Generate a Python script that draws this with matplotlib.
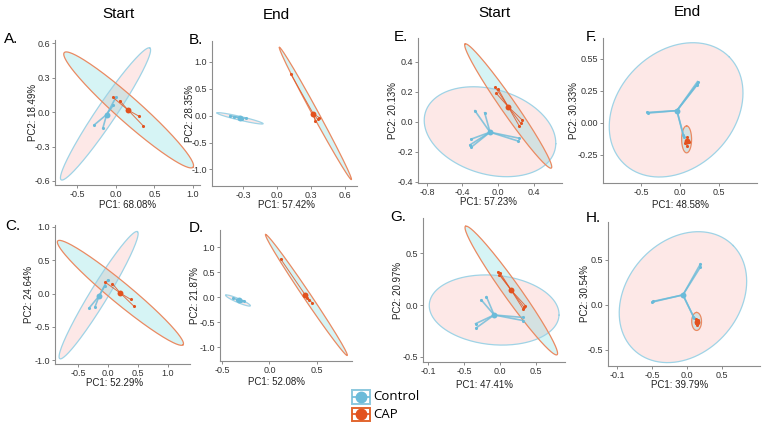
import numpy as np
import matplotlib.pyplot as plt
from matplotlib.patches import Rectangle

plt.rcParams['font.family'] = ['Liberation Sans', 'DejaVu Sans']

W, H = 763, 430

# ---- panel text ----
panels = ["A", "B", "C", "D", "E", "F", "G", "H"]
titles = {"A": "Start", "B": "End", "E": "Start", "F": "End"}
xlabels = {"A": "PC1: 68.08%", "B": "PC1: 57.42%", "C": "PC1: 52.29%", "D": "PC1: 52.08%",
           "E": "PC1: 57.23%", "F": "PC1: 48.58%", "G": "PC1: 47.41%", "H": "PC1: 39.79%"}
ylabels = {"A": "PC2: 18.49%", "B": "PC2: 28.35%", "C": "PC2: 24.64%", "D": "PC2: 21.87%",
           "E": "PC2: 20.13%", "F": "PC2: 30.33%", "G": "PC2: 20.97%", "H": "PC2: 30.54%"}

# ---- axis ranges / ticks ----
xlims = {"A": (-0.79, 1.09), "B": (-0.58, 0.71), "C": (-0.89, 1.37), "D": (-0.52, 0.87),
         "E": (-0.90, 0.72), "F": (-0.99, 0.99), "G": (-1.07, 0.90), "H": (-1.13, 1.04)}
ylims = {"A": (-0.635, 0.63), "B": (-1.31, 1.39), "C": (-1.06, 1.03), "D": (-1.27, 1.34),
         "E": (-0.41, 0.56), "F": (-0.47, 0.66), "G": (-0.55, 0.84), "H": (-0.68, 0.92)}
xticks = {"A": [-0.5, 0.0, 0.5, 1.0], "B": [-0.3, 0.0, 0.3, 0.6], "C": [-0.5, 0.0, 0.5, 1.0],
          "D": [-0.5, 0.0, 0.5], "E": [-0.8, -0.4, 0.0, 0.4], "F": [-0.5, 0.0, 0.5],
          "G": [-1.0, -0.5, 0.0, 0.5], "H": [-1.0, -0.5, 0.0, 0.5]}
xticklabels = {"A": ["-0.5", "0.0", "0.5", "1.0"], "B": ["-0.3", "0.0", "0.3", "0.6"],
               "C": ["-0.5", "0.0", "0.5", "1.0"], "D": ["-0.5", "0.0", "0.5"],
               "E": ["-0.8", "-0.4", "0.0", "0.4"], "F": ["-0.5", "0.0", "0.5"],
               "G": ["-0.1", "-0.5", "0.0", "0.5"], "H": ["-0.1", "-0.5", "0.0", "0.5"]}
yticks = {"A": [-0.6, -0.3, 0.0, 0.3, 0.6], "B": [-1.0, -0.5, 0.0, 0.5, 1.0],
          "C": [-1.0, -0.5, 0.0, 0.5, 1.0], "D": [-1.0, -0.5, 0.0, 0.5, 1.0],
          "E": [-0.4, -0.2, 0.0, 0.2, 0.4], "F": [-0.25, 0.0, 0.25, 0.5],
          "G": [-0.5, 0.0, 0.5], "H": [-0.5, 0.0, 0.5]}
yticklabels = {"A": ["-0.6", "-0.3", "0.0", "0.3", "0.6"], "B": ["-1.0", "-0.5", "0.0", "0.5", "1.0"],
               "C": ["-1.0", "-0.5", "0.0", "0.5", "1.0"], "D": ["-1.0", "-0.5", "0.0", "0.5", "1.0"],
               "E": ["-0.4", "-0.2", "0.0", "0.2", "0.4"], "F": ["-0.25", "0.00", "0.25", "0.55"],
               "G": ["-0.5", "0.0", "0.5"], "H": ["-0.5", "0.0", "0.5"]}

# ---- PCoA scores ----
ctrl_c = {"A": (-0.12, -0.02), "B": (-0.33, -0.04), "C": (-0.15, -0.035), "D": (-0.32, -0.06),
          "E": (-0.09, -0.07), "F": (-0.04, 0.094), "G": (-0.083, -0.096), "H": (-0.06, 0.11)}
cap_c = {"A": (0.16, 0.017), "B": (0.32, 0.04), "C": (0.205, 0.005), "D": (0.38, 0.04),
         "E": (0.115, 0.10), "F": (0.085, -0.14), "G": (0.153, 0.144), "H": (0.135, -0.19)}

ctrl_pts = {
    "A": [(-0.28, -0.11), (-0.17, -0.14), (-0.035, 0.06), (0.0, 0.13)],
    "B": [(-0.42, 0.0), (-0.38, -0.02), (-0.31, -0.06), (-0.28, -0.05)],
    "C": [(-0.32, -0.22), (-0.22, -0.20), (-0.055, 0.12), (-0.01, 0.20)],
    "D": [(-0.38, -0.02), (-0.34, -0.05), (-0.30, -0.08), (-0.27, -0.07)],
    "E": [(-0.26, 0.074), (-0.15, 0.06), (-0.30, -0.116), (-0.315, -0.155), (-0.30, -0.17),
          (0.235, -0.11), (0.23, -0.13)],
    "F": [(-0.42, 0.08), (-0.41, 0.075), (0.225, 0.32), (0.22, 0.30), (0.215, 0.29),
          (0.04, -0.094), (0.05, -0.11)],
    "G": [(-0.26, 0.048), (-0.19, 0.08), (-0.34, -0.18), (-0.33, -0.22), (0.32, -0.12),
          (0.32, -0.15)],
    "H": [(-0.49, 0.037), (-0.50, 0.03), (0.19, 0.455), (0.19, 0.42), (0.09, -0.13),
          (0.10, -0.15)],
}
cap_pts = {
    "A": [(-0.04, 0.13), (0.05, 0.10), (0.30, -0.035), (0.355, -0.12)],
    "B": [(0.12, 0.78), (0.34, -0.10), (0.36, -0.07), (0.375, -0.04)],
    "C": [(-0.05, 0.17), (0.07, 0.15), (0.38, -0.09), (0.43, -0.19)],
    "D": [(0.12, 0.76), (0.45, -0.11), (0.42, -0.05), (0.40, -0.02)],
    "E": [(-0.03, 0.23), (0.0, 0.22), (-0.02, 0.19), (0.27, 0.013), (0.255, -0.01), (0.24, -0.03)],
    "F": [(0.085, -0.11), (0.07, -0.16), (0.11, -0.15), (0.09, -0.18)],
    "G": [(-0.03, 0.32), (0.0, 0.31), (-0.01, 0.29), (0.35, -0.006), (0.33, -0.02), (0.32, -0.04)],
    "H": [(0.12, -0.16), (0.15, -0.17), (0.14, -0.22), (0.12, -0.20)],
}

# 95% ellipses: centre (cx, cy) and semi-axis vectors (ax, ay, bx, by)
ctrl_ell = {"A": (-0.135, -0.015, 0.575, 0.575, -0.105, 0.047),
            "B": (-0.33, -0.05, -0.205, 0.10, 0.004, 0.034),
            "C": (-0.16, -0.025, 0.65, 0.955, -0.125, 0.07),
            "D": (-0.33, -0.065, -0.13, 0.105, 0.008, 0.036),
            "E": (-0.09, -0.067, 0.74, -0.08, 0.01, 0.29),
            "F": (-0.05, 0.10, 0.68, 0.414, -0.526, 0.32),
            "G": (-0.083, -0.048, 0.90, -0.05, 0.02, 0.335),
            "H": (-0.06, 0.085, 0.717, 0.573, -0.56, 0.448)}
cap_ell = {"A": (0.165, 0.02, 0.835, -0.50, 0.105, 0.078),
           "B": (0.34, 0.04, -0.32, 1.23, 0.024, 0.028),
           "C": (0.205, 0.01, 1.05, -0.78, 0.11, 0.12),
           "D": (0.39, 0.045, -0.43, 1.205, 0.032, 0.04),
           "E": (0.115, 0.105, -0.485, 0.415, 0.068, 0.028),
           "F": (0.085, -0.13, 0.0, 0.105, 0.064, 0.0),
           "G": (0.155, 0.14, -0.635, 0.62, 0.095, 0.046),
           "H": (0.135, -0.185, 0.0, 0.10, 0.07, 0.0)}

groups = ["Control", "CAP"]

# ---- layout in pixels: left, top, right, bottom ----
boxes = {"A": (55, 40, 200, 185), "B": (212, 41, 357, 186), "E": (418, 38, 562, 183),
         "F": (603, 38, 757, 183), "C": (55, 225, 190, 364), "D": (220, 230, 352, 361),
         "G": (423, 218, 565, 362), "H": (608, 222, 760, 366)}
letter_pos = {"A": (11, 39), "B": (196, 40), "C": (13, 226), "D": (196, 228),
              "E": (401, 37), "F": (592, 37), "G": (398, 217), "H": (593, 218)}
title_pos = {"A": (118, 14), "B": (276, 15), "E": (494, 13), "F": (687, 12)}
xlab_pos = {"A": (128, 205), "B": (287, 205), "C": (115, 383), "D": (277, 382),
            "E": (488, 202), "F": (680, 205), "G": (485, 385), "H": (680, 385)}
ylab_x = {"A": 33, "B": 190, "C": 29, "D": 195, "E": 393, "F": 574, "G": 398, "H": 585}

CTRL = "#6bbbd9"
CAP = "#e2521f"
CTRL_EDGE = "#9fd3e6"
CAP_EDGE = "#ea8a62"
GRAY = "#8c8c8c"


def fx(px):
    return px / W


def fy(py):
    return 1 - py / H


def ellipse(e, n=200):
    t = np.linspace(0, 2 * np.pi, n)
    x = e[0] + e[2] * np.cos(t) + e[4] * np.sin(t)
    y = e[1] + e[3] * np.cos(t) + e[5] * np.sin(t)
    return x, y


fig = plt.figure(figsize=(W / 100, H / 100), dpi=100)

for p in panels:
    l, t, r, b = boxes[p]
    ax = fig.add_axes([fx(l), fy(b), (r - l) / W, (b - t) / H])

    # ellipses (fills look swapped in the original, keep it)
    ex, ey = ellipse(ctrl_ell[p])
    ax.fill(ex, ey, color="#F8766D", alpha=0.16, lw=0, zorder=1)
    ax.plot(ex, ey, color=CTRL_EDGE, lw=0.9, zorder=2)
    ex, ey = ellipse(cap_ell[p])
    ax.fill(ex, ey, color="#00BFC4", alpha=0.16, lw=0, zorder=1)
    ax.plot(ex, ey, color=CAP_EDGE, lw=0.9, zorder=2)

    # spider lines + points
    for pts, c, col, lw in [(ctrl_pts[p], ctrl_c[p], CTRL, 1.2), (cap_pts[p], cap_c[p], CAP, 0.7)]:
        pts = np.array(pts)
        for x, y in pts:
            ax.plot([c[0], x], [c[1], y], color=col, lw=lw, alpha=0.8, zorder=3)
        ax.scatter(pts[:, 0], pts[:, 1], s=5, color=col, zorder=4, lw=0)
        ax.scatter([c[0]], [c[1]], s=18, color=col, zorder=5, lw=0)

    ax.set_xlim(*xlims[p])
    ax.set_ylim(*ylims[p])
    ax.set_xticks(xticks[p])
    ax.set_xticklabels(xticklabels[p])
    ax.set_yticks(yticks[p])
    ax.set_yticklabels(yticklabels[p])
    ax.tick_params(labelsize=6.5, colors=GRAY, labelcolor="#333333", length=2, width=0.7, pad=1.5)
    for s in ["top", "right"]:
        ax.spines[s].set_visible(False)
    for s in ["left", "bottom"]:
        ax.spines[s].set_color(GRAY)
        ax.spines[s].set_linewidth(0.8)

    fig.text(fx(letter_pos[p][0]), fy(letter_pos[p][1]), p + ".", fontsize=11,
             ha="center", va="center")
    fig.text(fx(xlab_pos[p][0]), fy(xlab_pos[p][1]), xlabels[p], fontsize=7,
             ha="center", va="center", color="#222222")
    fig.text(fx(ylab_x[p]), fy((t + b) / 2), ylabels[p], fontsize=7, rotation=90,
             ha="center", va="center", color="#222222")
    if p in titles:
        fig.text(fx(title_pos[p][0]), fy(title_pos[p][1]), titles[p], fontsize=11,
                 ha="center", va="center")

# ---- legend ----
leg = fig.add_axes([0, 0, 1, 1], facecolor="none")
leg.set_xlim(0, W)
leg.set_ylim(H, 0)
leg.axis("off")
for i, (g, col, edge) in enumerate(zip(groups, [CTRL, CAP], ["#8cc8de", "#e2662f"])):
    y0 = 390 + i * 17.5
    leg.add_patch(Rectangle((352, y0), 18, 13.5, fill=False, ec=edge, lw=1.4))
    leg.plot([353, 369], [y0 + 6.75, y0 + 6.75], color=col, lw=1.2)
    leg.plot([361], [y0 + 6.75], "o", color=col, ms=7.5)
    leg.text(373, y0 + 7, g, fontsize=9.5, va="center", ha="left", family=["Open Sans", "DejaVu Sans"])

fig.savefig("out.png", dpi=100)
